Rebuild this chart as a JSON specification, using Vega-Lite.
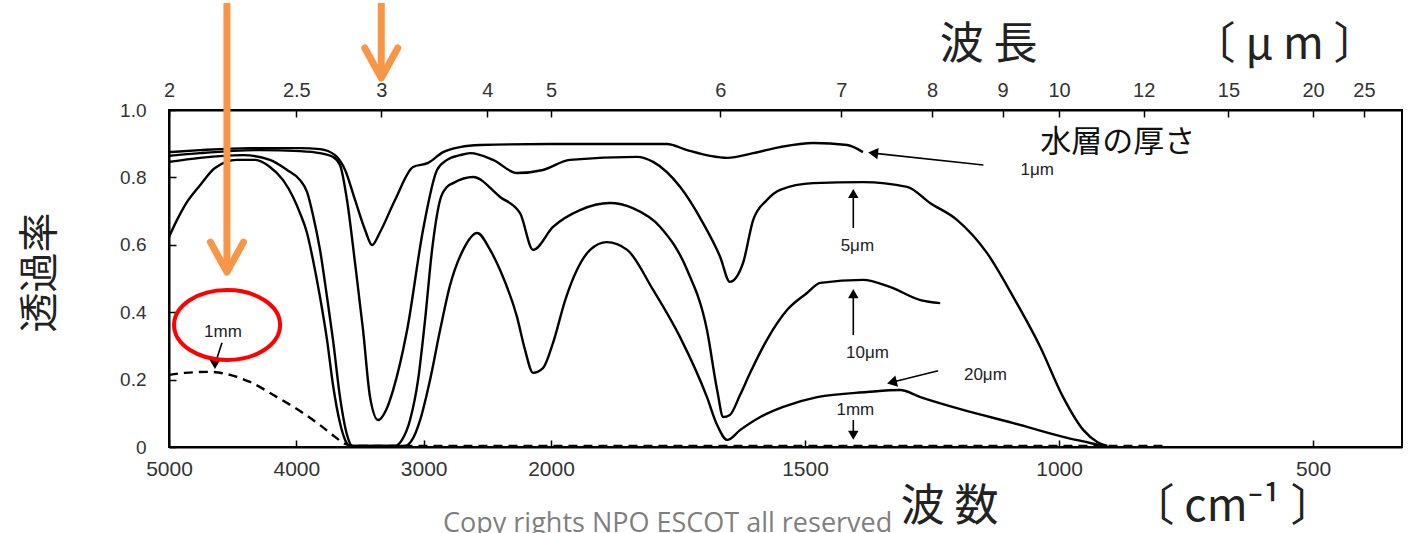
{
  "$schema": "https://vega.github.io/schema/vega-lite/v6.json",
  "width": 1233,
  "height": 337,
  "autosize": {"type": "none"},
  "padding": {"left": 169, "top": 110, "right": 10, "bottom": 86},
  "background": "white",
  "title": {
    "text": "Copy rights NPO ESCOT all reserved",
    "orient": "bottom",
    "anchor": "start",
    "frame": "group",
    "dx": 274,
    "offset": -18,
    "font": "Open Sans",
    "fontSize": 27,
    "fontWeight": "normal",
    "color": "#7f7f7f"
  },
  "datasets": {
    "spectra": [
      {"series": "1μm", "wn": 5000, "T": 0.875}, {"series": "1μm", "wn": 4756, "T": 0.881}, {"series": "1μm", "wn": 4364, "T": 0.887},
      {"series": "1μm", "wn": 3971, "T": 0.887}, {"series": "1μm", "wn": 3814, "T": 0.884}, {"series": "1μm", "wn": 3696, "T": 0.866},
      {"series": "1μm", "wn": 3617, "T": 0.822}, {"series": "1μm", "wn": 3539, "T": 0.733}, {"series": "1μm", "wn": 3460, "T": 0.644},
      {"series": "1μm", "wn": 3405, "T": 0.599}, {"series": "1μm", "wn": 3342, "T": 0.638}, {"series": "1μm", "wn": 3225, "T": 0.733},
      {"series": "1μm", "wn": 3083, "T": 0.831}, {"series": "1μm", "wn": 2965, "T": 0.843}, {"series": "1μm", "wn": 2847, "T": 0.875},
      {"series": "1μm", "wn": 2714, "T": 0.89}, {"series": "1μm", "wn": 2557, "T": 0.896}, {"series": "1μm", "wn": 2008, "T": 0.899},
      {"series": "1μm", "wn": 1864, "T": 0.899}, {"series": "1μm", "wn": 1772, "T": 0.899}, {"series": "1μm", "wn": 1732, "T": 0.881},
      {"series": "1μm", "wn": 1687, "T": 0.864}, {"series": "1μm", "wn": 1653, "T": 0.858}, {"series": "1μm", "wn": 1602, "T": 0.872},
      {"series": "1μm", "wn": 1549, "T": 0.89}, {"series": "1μm", "wn": 1484, "T": 0.902}, {"series": "1μm", "wn": 1417, "T": 0.896},
      {"series": "1μm", "wn": 1386, "T": 0.875},

      {"series": "5μm", "wn": 5000, "T": 0.864}, {"series": "5μm", "wn": 4756, "T": 0.872}, {"series": "5μm", "wn": 4285, "T": 0.881},
      {"series": "5μm", "wn": 3971, "T": 0.878}, {"series": "5μm", "wn": 3814, "T": 0.872}, {"series": "5μm", "wn": 3712, "T": 0.861},
      {"series": "5μm", "wn": 3657, "T": 0.837}, {"series": "5μm", "wn": 3602, "T": 0.733}, {"series": "5μm", "wn": 3539, "T": 0.546},
      {"series": "5μm", "wn": 3476, "T": 0.347}, {"series": "5μm", "wn": 3421, "T": 0.148}, {"series": "5μm", "wn": 3358, "T": 0.08},
      {"series": "5μm", "wn": 3295, "T": 0.11}, {"series": "5μm", "wn": 3240, "T": 0.169}, {"series": "5μm", "wn": 3130, "T": 0.347},
      {"series": "5μm", "wn": 3005, "T": 0.644}, {"series": "5μm", "wn": 2895, "T": 0.822}, {"series": "5μm", "wn": 2816, "T": 0.852},
      {"series": "5μm", "wn": 2714, "T": 0.866}, {"series": "5μm", "wn": 2635, "T": 0.872}, {"series": "5μm", "wn": 2455, "T": 0.852},
      {"series": "5μm", "wn": 2267, "T": 0.813}, {"series": "5μm", "wn": 2063, "T": 0.822}, {"series": "5μm", "wn": 1963, "T": 0.852},
      {"series": "5μm", "wn": 1831, "T": 0.861}, {"series": "5μm", "wn": 1799, "T": 0.846}, {"series": "5μm", "wn": 1746, "T": 0.772},
      {"series": "5μm", "wn": 1701, "T": 0.665}, {"series": "5μm", "wn": 1667, "T": 0.564}, {"series": "5μm", "wn": 1648, "T": 0.49},
      {"series": "5μm", "wn": 1622, "T": 0.546}, {"series": "5μm", "wn": 1602, "T": 0.674}, {"series": "5μm", "wn": 1575, "T": 0.733},
      {"series": "5μm", "wn": 1549, "T": 0.763}, {"series": "5μm", "wn": 1484, "T": 0.783}, {"series": "5μm", "wn": 1386, "T": 0.786},
      {"series": "5μm", "wn": 1299, "T": 0.772}, {"series": "5μm", "wn": 1254, "T": 0.724}, {"series": "5μm", "wn": 1201, "T": 0.674},
      {"series": "5μm", "wn": 1142, "T": 0.576}, {"series": "5μm", "wn": 1090, "T": 0.445}, {"series": "5μm", "wn": 1037, "T": 0.297},
      {"series": "5μm", "wn": 992, "T": 0.148}, {"series": "5μm", "wn": 952, "T": 0.05}, {"series": "5μm", "wn": 925, "T": 0.015},
      {"series": "5μm", "wn": 905, "T": 0.003},

      {"series": "10μm", "wn": 5000, "T": 0.846}, {"series": "10μm", "wn": 4756, "T": 0.858}, {"series": "10μm", "wn": 4419, "T": 0.866},
      {"series": "10μm", "wn": 4207, "T": 0.852}, {"series": "10μm", "wn": 4073, "T": 0.822}, {"series": "10μm", "wn": 3971, "T": 0.792},
      {"series": "10μm", "wn": 3916, "T": 0.757}, {"series": "10μm", "wn": 3869, "T": 0.688}, {"series": "10μm", "wn": 3814, "T": 0.585},
      {"series": "10μm", "wn": 3759, "T": 0.445}, {"series": "10μm", "wn": 3712, "T": 0.318}, {"series": "10μm", "wn": 3657, "T": 0.148},
      {"series": "10μm", "wn": 3602, "T": 0.036}, {"series": "10μm", "wn": 3562, "T": 0.003}, {"series": "10μm", "wn": 3225, "T": 0.003},
      {"series": "10μm", "wn": 3170, "T": 0.021}, {"series": "10μm", "wn": 3107, "T": 0.08}, {"series": "10μm", "wn": 3044, "T": 0.199},
      {"series": "10μm", "wn": 2989, "T": 0.377}, {"series": "10μm", "wn": 2934, "T": 0.585}, {"series": "10μm", "wn": 2871, "T": 0.733},
      {"series": "10μm", "wn": 2816, "T": 0.772}, {"series": "10μm", "wn": 2769, "T": 0.783}, {"series": "10μm", "wn": 2612, "T": 0.801},
      {"series": "10μm", "wn": 2400, "T": 0.742}, {"series": "10μm", "wn": 2243, "T": 0.694}, {"series": "10μm", "wn": 2141, "T": 0.585},
      {"series": "10μm", "wn": 1996, "T": 0.653}, {"series": "10μm", "wn": 1943, "T": 0.703}, {"series": "10μm", "wn": 1884, "T": 0.724},
      {"series": "10μm", "wn": 1839, "T": 0.709}, {"series": "10μm", "wn": 1785, "T": 0.653}, {"series": "10μm", "wn": 1732, "T": 0.525},
      {"series": "10μm", "wn": 1693, "T": 0.347}, {"series": "10μm", "wn": 1673, "T": 0.169}, {"series": "10μm", "wn": 1661, "T": 0.089},
      {"series": "10μm", "wn": 1648, "T": 0.095}, {"series": "10μm", "wn": 1628, "T": 0.154}, {"series": "10μm", "wn": 1608, "T": 0.22},
      {"series": "10μm", "wn": 1575, "T": 0.318}, {"series": "10μm", "wn": 1535, "T": 0.407}, {"series": "10μm", "wn": 1496, "T": 0.457},
      {"series": "10μm", "wn": 1470, "T": 0.487}, {"series": "10μm", "wn": 1386, "T": 0.496}, {"series": "10μm", "wn": 1333, "T": 0.475},
      {"series": "10μm", "wn": 1273, "T": 0.436}, {"series": "10μm", "wn": 1234, "T": 0.427},

      {"series": "20μm", "wn": 5000, "T": 0.623}, {"series": "20μm", "wn": 4937, "T": 0.674}, {"series": "20μm", "wn": 4874, "T": 0.718},
      {"series": "20μm", "wn": 4756, "T": 0.777}, {"series": "20μm", "wn": 4639, "T": 0.828}, {"series": "20μm", "wn": 4466, "T": 0.852},
      {"series": "20μm", "wn": 4324, "T": 0.852}, {"series": "20μm", "wn": 4207, "T": 0.831}, {"series": "20μm", "wn": 4104, "T": 0.792},
      {"series": "20μm", "wn": 4026, "T": 0.742}, {"series": "20μm", "wn": 3971, "T": 0.694}, {"series": "20μm", "wn": 3916, "T": 0.635},
      {"series": "20μm", "wn": 3869, "T": 0.555}, {"series": "20μm", "wn": 3814, "T": 0.445}, {"series": "20μm", "wn": 3759, "T": 0.318},
      {"series": "20μm", "wn": 3712, "T": 0.184}, {"series": "20μm", "wn": 3657, "T": 0.071}, {"series": "20μm", "wn": 3617, "T": 0.021},
      {"series": "20μm", "wn": 3578, "T": 0.003}, {"series": "20μm", "wn": 3146, "T": 0.003}, {"series": "20μm", "wn": 3091, "T": 0.021},
      {"series": "20μm", "wn": 3028, "T": 0.08}, {"series": "20μm", "wn": 2950, "T": 0.199}, {"series": "20μm", "wn": 2871, "T": 0.347},
      {"series": "20μm", "wn": 2792, "T": 0.481}, {"series": "20μm", "wn": 2690, "T": 0.585}, {"series": "20μm", "wn": 2580, "T": 0.635},
      {"series": "20μm", "wn": 2478, "T": 0.585}, {"series": "20μm", "wn": 2400, "T": 0.525}, {"series": "20μm", "wn": 2267, "T": 0.386},
      {"series": "20μm", "wn": 2204, "T": 0.288}, {"series": "20μm", "wn": 2141, "T": 0.22}, {"series": "20μm", "wn": 2063, "T": 0.234},
      {"series": "20μm", "wn": 1996, "T": 0.309}, {"series": "20μm", "wn": 1972, "T": 0.436}, {"series": "20μm", "wn": 1949, "T": 0.525},
      {"series": "20μm", "wn": 1923, "T": 0.585}, {"series": "20μm", "wn": 1890, "T": 0.608}, {"series": "20μm", "wn": 1850, "T": 0.585},
      {"series": "20μm", "wn": 1799, "T": 0.466}, {"series": "20μm", "wn": 1746, "T": 0.326}, {"series": "20μm", "wn": 1693, "T": 0.148},
      {"series": "20μm", "wn": 1673, "T": 0.065}, {"series": "20μm", "wn": 1653, "T": 0.021}, {"series": "20μm", "wn": 1628, "T": 0.05},
      {"series": "20μm", "wn": 1588, "T": 0.089}, {"series": "20μm", "wn": 1543, "T": 0.119}, {"series": "20μm", "wn": 1476, "T": 0.148},
      {"series": "20μm", "wn": 1378, "T": 0.163}, {"series": "20μm", "wn": 1313, "T": 0.169}, {"series": "20μm", "wn": 1273, "T": 0.148},
      {"series": "20μm", "wn": 1189, "T": 0.11}, {"series": "20μm", "wn": 1090, "T": 0.071}, {"series": "20μm", "wn": 992, "T": 0.03},
      {"series": "20μm", "wn": 939, "T": 0.012}, {"series": "20μm", "wn": 913, "T": 0.003},

      {"series": "1mm", "wn": 5000, "T": 0.214}, {"series": "1mm", "wn": 4874, "T": 0.22}, {"series": "1mm", "wn": 4678, "T": 0.223},
      {"series": "1mm", "wn": 4521, "T": 0.214}, {"series": "1mm", "wn": 4364, "T": 0.193}, {"series": "1mm", "wn": 4152, "T": 0.148},
      {"series": "1mm", "wn": 3947, "T": 0.101}, {"series": "1mm", "wn": 3814, "T": 0.065}, {"series": "1mm", "wn": 3696, "T": 0.03},
      {"series": "1mm", "wn": 3617, "T": 0.009}, {"series": "1mm", "wn": 3539, "T": 0.003}, {"series": "1mm", "wn": 3000, "T": 0.003},
      {"series": "1mm", "wn": 2000, "T": 0.003}, {"series": "1mm", "wn": 1500, "T": 0.003}, {"series": "1mm", "wn": 1000, "T": 0.003},
      {"series": "1mm", "wn": 791, "T": 0.003}
    ],
    "arrows": [
      {"id": "1μm", "wn": 1149, "T": 0.837, "wn2": 1366, "T2": 0.872},
      {"id": "5μm", "wn": 1405, "T": 0.65, "wn2": 1405, "T2": 0.752},
      {"id": "10μm", "wn": 1405, "T": 0.332, "wn2": 1405, "T2": 0.455},
      {"id": "20μm", "wn": 1238, "T": 0.226, "wn2": 1329, "T2": 0.192},
      {"id": "1mm-r", "wn": 1405, "T": 0.08, "wn2": 1405, "T2": 0.035},
      {"id": "1mm-l", "wn": 4584, "T": 0.309, "wn2": 4639, "T2": 0.245}
    ],
    "labels": [
      {"text": "1μm", "wn": 1043, "T": 0.822},
      {"text": "5μm", "wn": 1397, "T": 0.596},
      {"text": "10μm", "wn": 1377, "T": 0.279},
      {"text": "20μm", "wn": 1145, "T": 0.214},
      {"text": "1mm", "wn": 1401, "T": 0.11},
      {"text": "1mm", "wn": 4576, "T": 0.341}
    ],
    "note": [
      {"text": "水層の厚さ", "wn": 1037, "T": 0.902}
    ],
    "highlights": [
      {"wn": 4545, "T": 1.3175, "T2": 0.519},
      {"wn": 3333, "T": 1.3175, "T2": 1.095}
    ],
    "circle": [
      {"wn": 4544, "T": 0.362}
    ]
  },
  "layer": [
    {
      "data": {"name": "spectra"},
      "transform": [{"filter": "datum.series != '1mm'"}],
      "mark": {"type": "line", "color": "black", "strokeWidth": 2.4, "interpolate": "monotone"},
      "encoding": {
        "x": {
          "field": "wn", "type": "quantitative",
          "scale": {"domain": [5000, 2000, 325], "range": [0, 382, 1233], "nice": false, "zero": false},
          "axis": {
            "orient": "bottom",
            "values": [5000, 4000, 3000, 2000, 1500, 1000, 500],
            "format": "d",
            "labelFlush": false,
            "labelOverlap": false,
            "tickSize": -7,
            "labelPadding": 18,
            "labelFontSize": 21,
            "title": "波 数\u3000\u3000\u2002\u2002〔 cm⁻¹ 〕",
            "titleFontSize": 44,
            "titleX": 1165,
            "titleY": 60,
            "titleAlign": "right",
            "titleBaseline": "middle",
            "titleAnchor": null
          }
        },
        "y": {
          "field": "T", "type": "quantitative",
          "scale": {"domain": [0, 1], "nice": false, "zero": false},
          "axis": {
            "orient": "left",
            "values": [0, 0.2, 0.4, 0.6, 0.8, 1.0],
            "labelExpr": "datum.value == 0 ? '0' : format(datum.value, '.1f')",
            "tickSize": -7,
            "labelPadding": 30,
            "labelFontSize": 19,
            "title": "透過率",
            "titleFontSize": 40,
            "titleAngle": 270,
            "titleX": -129,
            "titleY": 162,
            "titleAlign": "center",
            "titleBaseline": "middle",
            "titleAnchor": null
          }
        },
        "detail": {"field": "series", "type": "nominal"},
        "order": {"field": "wn", "sort": "descending"}
      }
    },
    {
      "data": {"name": "spectra"},
      "transform": [{"filter": "datum.series == '1mm'"}],
      "mark": {"type": "line", "color": "black", "strokeWidth": 2.4, "strokeDash": [9, 6], "interpolate": "monotone"},
      "encoding": {
        "x": {"field": "wn", "type": "quantitative", "scale": {"domain": [5000, 2000, 325], "range": [0, 382, 1233], "nice": false, "zero": false}, "axis": null},
        "y": {"field": "T", "type": "quantitative", "scale": {"domain": [0, 1], "nice": false, "zero": false}, "axis": null},
        "order": {"field": "wn", "sort": "descending"}
      }
    },
    {
      "data": {"name": "arrows"},
      "mark": {"type": "rule", "color": "black", "strokeWidth": 1.6},
      "encoding": {
        "x": {"field": "wn", "type": "quantitative", "scale": {"domain": [5000, 2000, 325], "range": [0, 382, 1233], "nice": false, "zero": false}, "axis": null},
        "x2": {"field": "wn2"},
        "y": {"field": "T", "type": "quantitative", "scale": {"domain": [0, 1], "nice": false, "zero": false}, "axis": null},
        "y2": {"field": "T2"}
      }
    },
    {
      "data": {"name": "arrows"},
      "transform": [{"filter": "datum.id == '5μm' || datum.id == '10μm'"}],
      "mark": {"type": "point", "shape": "triangle-up", "filled": true, "color": "black", "opacity": 1, "size": 110},
      "encoding": {
        "x": {"field": "wn2", "type": "quantitative", "scale": {"domain": [5000, 2000, 325], "range": [0, 382, 1233], "nice": false, "zero": false}, "axis": null},
        "y": {"field": "T2", "type": "quantitative", "scale": {"domain": [0, 1], "nice": false, "zero": false}, "axis": null}
      }
    },
    {
      "data": {"name": "arrows"},
      "transform": [{"filter": "datum.id == '1mm-r' || datum.id == '1mm-l'"}],
      "mark": {"type": "point", "shape": "triangle-down", "filled": true, "color": "black", "opacity": 1, "size": 110},
      "encoding": {
        "x": {"field": "wn2", "type": "quantitative", "scale": {"domain": [5000, 2000, 325], "range": [0, 382, 1233], "nice": false, "zero": false}, "axis": null},
        "y": {"field": "T2", "type": "quantitative", "scale": {"domain": [0, 1], "nice": false, "zero": false}, "axis": null}
      }
    },
    {
      "data": {"name": "arrows"},
      "transform": [{"filter": "datum.id == '1μm'"}],
      "mark": {"type": "point", "shape": "triangle-left", "filled": true, "color": "black", "opacity": 1, "size": 130, "angle": 6},
      "encoding": {
        "x": {"field": "wn2", "type": "quantitative", "scale": {"domain": [5000, 2000, 325], "range": [0, 382, 1233], "nice": false, "zero": false}, "axis": null},
        "y": {"field": "T2", "type": "quantitative", "scale": {"domain": [0, 1], "nice": false, "zero": false}, "axis": null}
      }
    },
    {
      "data": {"name": "arrows"},
      "transform": [{"filter": "datum.id == '20μm'"}],
      "mark": {"type": "point", "shape": "triangle-left", "filled": true, "color": "black", "opacity": 1, "size": 130, "angle": -14},
      "encoding": {
        "x": {"field": "wn2", "type": "quantitative", "scale": {"domain": [5000, 2000, 325], "range": [0, 382, 1233], "nice": false, "zero": false}, "axis": null},
        "y": {"field": "T2", "type": "quantitative", "scale": {"domain": [0, 1], "nice": false, "zero": false}, "axis": null}
      }
    },
    {
      "data": {"name": "labels"},
      "mark": {"type": "text", "font": "Liberation Sans", "fontSize": 17, "color": "#222", "align": "center", "baseline": "middle"},
      "encoding": {
        "x": {"field": "wn", "type": "quantitative", "scale": {"domain": [5000, 2000, 325], "range": [0, 382, 1233], "nice": false, "zero": false}, "axis": null},
        "y": {"field": "T", "type": "quantitative", "scale": {"domain": [0, 1], "nice": false, "zero": false}, "axis": null},
        "text": {"field": "text"}
      }
    },
    {
      "data": {"name": "note"},
      "mark": {"type": "text", "font": "Noto Sans CJK JP", "fontSize": 31, "color": "#111", "align": "left", "baseline": "middle"},
      "encoding": {
        "x": {"field": "wn", "type": "quantitative", "scale": {"domain": [5000, 2000, 325], "range": [0, 382, 1233], "nice": false, "zero": false}, "axis": null},
        "y": {"field": "T", "type": "quantitative", "scale": {"domain": [0, 1], "nice": false, "zero": false}, "axis": null},
        "text": {"field": "text"}
      }
    },
    {
      "data": {"name": "highlights"},
      "mark": {"type": "rule", "color": "#F79646", "strokeWidth": 7},
      "encoding": {
        "x": {
          "field": "wn", "type": "quantitative",
          "scale": {"domain": [5000, 2000, 325], "range": [0, 382, 1233], "nice": false, "zero": false},
          "axis": {
            "orient": "top",
            "values": [5000, 4000, 3333.333, 2500, 2000, 1666.667, 1428.571, 1250, 1111.111, 1000, 833.333, 666.667, 500, 400],
            "labelExpr": "round(100000 / datum.value) / 10",
            "labelFlush": false,
            "labelOverlap": false,
            "tickSize": -7,
            "labelPadding": 17,
            "labelFontSize": 20,
            "title": "波 長\u3000\u3000\u3000\u3000〔 μ m 〕",
            "titleFontSize": 44,
            "titleX": 1208,
            "titleY": -65,
            "titleAlign": "right",
            "titleBaseline": "middle",
            "titleAnchor": null
          }
        },
        "y": {"field": "T", "type": "quantitative", "scale": {"domain": [0, 1], "nice": false, "zero": false}, "axis": null},
        "y2": {"field": "T2"}
      }
    },
    {
      "data": {"name": "highlights"},
      "mark": {"type": "point", "shape": "M-0.55,-1L0,0L0.55,-1", "filled": false, "color": "#F79646", "opacity": 1, "strokeWidth": 7, "strokeCap": "round", "strokeJoin": "round", "size": 3600},
      "encoding": {
        "x": {"field": "wn", "type": "quantitative", "scale": {"domain": [5000, 2000, 325], "range": [0, 382, 1233], "nice": false, "zero": false}, "axis": null},
        "y": {"field": "T2", "type": "quantitative", "scale": {"domain": [0, 1], "nice": false, "zero": false}, "axis": null}
      }
    },
    {
      "data": {"name": "circle"},
      "mark": {"type": "point", "shape": "M-1,0A1,0.66,0,1,1,1,0A1,0.66,0,1,1,-1,0Z", "filled": false, "color": "#FF0000", "opacity": 1, "strokeWidth": 4, "size": 11236},
      "encoding": {
        "x": {"field": "wn", "type": "quantitative", "scale": {"domain": [5000, 2000, 325], "range": [0, 382, 1233], "nice": false, "zero": false}, "axis": null},
        "y": {"field": "T", "type": "quantitative", "scale": {"domain": [0, 1], "nice": false, "zero": false}, "axis": null}
      }
    }
  ],
  "resolve": {"axis": {"x": "independent", "y": "independent"}},
  "config": {
    "view": {"stroke": "black", "strokeWidth": 2},
    "axis": {
      "grid": false,
      "domainColor": "black",
      "domainWidth": 2,
      "tickColor": "black",
      "tickWidth": 1.5,
      "labelColor": "#333",
      "labelFont": "Liberation Sans",
      "titleFont": "Noto Sans CJK JP",
      "titleColor": "#222",
      "titleFontWeight": "normal"
    }
  }
}
